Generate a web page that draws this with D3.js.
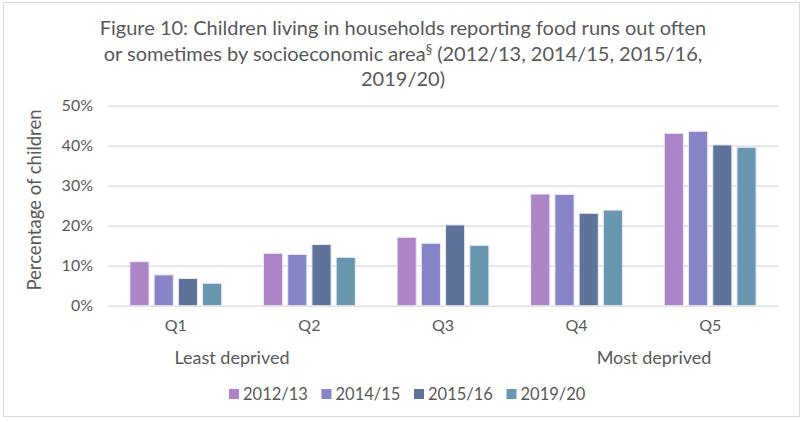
<!DOCTYPE html>
<html>
<head>
<meta charset="utf-8">
<script src="https://cdn.jsdelivr.net/npm/d3@7"></script>
<style>
  body { margin: 0; background: #fff; }
  text { font-family: Lato, "Open Sans", sans-serif; fill: #595959; }
  .grid line { stroke: #d9d9d9; stroke-width: 1.3; }
</style>
</head>
<body>
<svg id="chart" width="804" height="422"></svg>
<script>
// Food insecurity by socioeconomic quintile

var quintiles = ["Q1", "Q2", "Q3", "Q4", "Q5"]
  , years = ["2012/13", "2014/15", "2015/16", "2019/20"]
  , colours = ["#ad84c6", "#8784c7", "#5d739a", "#6997af"]
  , v2012 = [11.0, 13.1, 17.1, 27.9, 43.1]
  , v2014 = [7.7, 12.8, 15.6, 27.8, 43.6]
  , v2015 = [6.8, 15.3, 20.2, 23.1, 40.2]
  , v2019 = [5.6, 12.1, 15.1, 23.9, 39.6]
  , yTicks = [0, 10, 20, 30, 40, 50]
  ;

var series = [v2012, v2014, v2015, v2019];

var svg = d3.select("#chart");

// outer frame
svg.append("rect")
   .attr("x", 3.5).attr("y", 2.5)
   .attr("width", 796).attr("height", 414)
   .attr("fill", "none")
   .attr("stroke", "#d9d9d9");

var plotLeft = 108, plotRight = 778, plotTop = 105.7, plotBottom = 305.7;

var x = d3.scaleBand().domain(quintiles).range([plotLeft, plotRight]).paddingInner(0.313).paddingOuter(0.164);
var xs = d3.scaleBand().domain(years).range([0, x.bandwidth()]).paddingInner(0.21);
var y = d3.scaleLinear().domain([0, 50]).range([plotBottom, plotTop]);

// gridlines
var grid = svg.append("g").attr("class", "grid")
  .attr("transform", "translate(" + plotLeft + ",0)")
  .call(d3.axisLeft(y).tickValues(yTicks).tickSize(-(plotRight - plotLeft)).tickFormat(""));
grid.select(".domain").remove();

// y tick labels
svg.append("g").selectAll("text")
   .data(yTicks).enter().append("text")
   .attr("x", 93)
   .attr("y", function (d) { return y(d) + 5.5; })
   .attr("text-anchor", "end")
   .attr("font-size", 16)
   .text(function (d) { return d + "%"; });

// bars
var groups = svg.append("g").selectAll("g")
  .data(series).enter().append("g")
  .attr("fill", function (d, i) { return colours[i]; });

groups.selectAll("rect")
  .data(function (d, i) { return d.map(function (v, j) { return { q: quintiles[j], v: v, yr: years[i] }; }); })
  .enter().append("rect")
  .attr("x", function (d) { return x(d.q) + xs(d.yr); })
  .attr("y", function (d) { return y(d.v); })
  .attr("width", xs.bandwidth())
  .attr("height", function (d) { return y(0) - y(d.v); })
  .attr("stroke", "#eaeaf4")
  .attr("stroke-width", 1);

// x labels
svg.append("g").selectAll("text")
   .data(quintiles).enter().append("text")
   .attr("x", function (d) { return x(d) + x.bandwidth() / 2; })
   .attr("y", 331)
   .attr("text-anchor", "middle")
   .attr("font-size", 16)
   .text(function (d) { return d; });

svg.append("text").attr("x", 232).attr("y", 364)
   .attr("text-anchor", "middle").attr("font-size", 18).text("Least deprived");
svg.append("text").attr("x", 654).attr("y", 364)
   .attr("text-anchor", "middle").attr("font-size", 18).text("Most deprived");

// y title
svg.append("text")
   .attr("transform", "translate(41,200) rotate(-90)")
   .attr("text-anchor", "middle")
   .attr("font-size", 18.5)
   .text("Percentage of children");

// title
var title = svg.append("text")
   .attr("text-anchor", "middle")
   .attr("font-size", 20);
title.append("tspan").attr("x", 403).attr("y", 35)
   .text("Figure 10: Children living in households reporting food runs out often");
var t2 = title.append("tspan").attr("x", 403).attr("y", 60.5);
t2.append("tspan").text("or sometimes by socioeconomic area");
t2.append("tspan").attr("dy", -7).attr("font-size", 13).text("\u00a7");
t2.append("tspan").attr("dy", 7).text(" (2012/13, 2014/15, 2015/16,");
title.append("tspan").attr("x", 403).attr("y", 86).text("2019/20)");

// legend
var legend = svg.append("g").selectAll("g")
  .data(years).enter().append("g")
  .attr("transform", function (d, i) { return "translate(" + (229 + i * 92.5) + ",389)"; });
legend.append("rect")
  .attr("width", 10).attr("height", 10)
  .attr("fill", function (d, i) { return colours[i]; });
legend.append("text")
  .attr("x", 14).attr("y", 11)
  .attr("font-size", 16.5)
  .text(function (d) { return d; });
</script>
</body>
</html>
